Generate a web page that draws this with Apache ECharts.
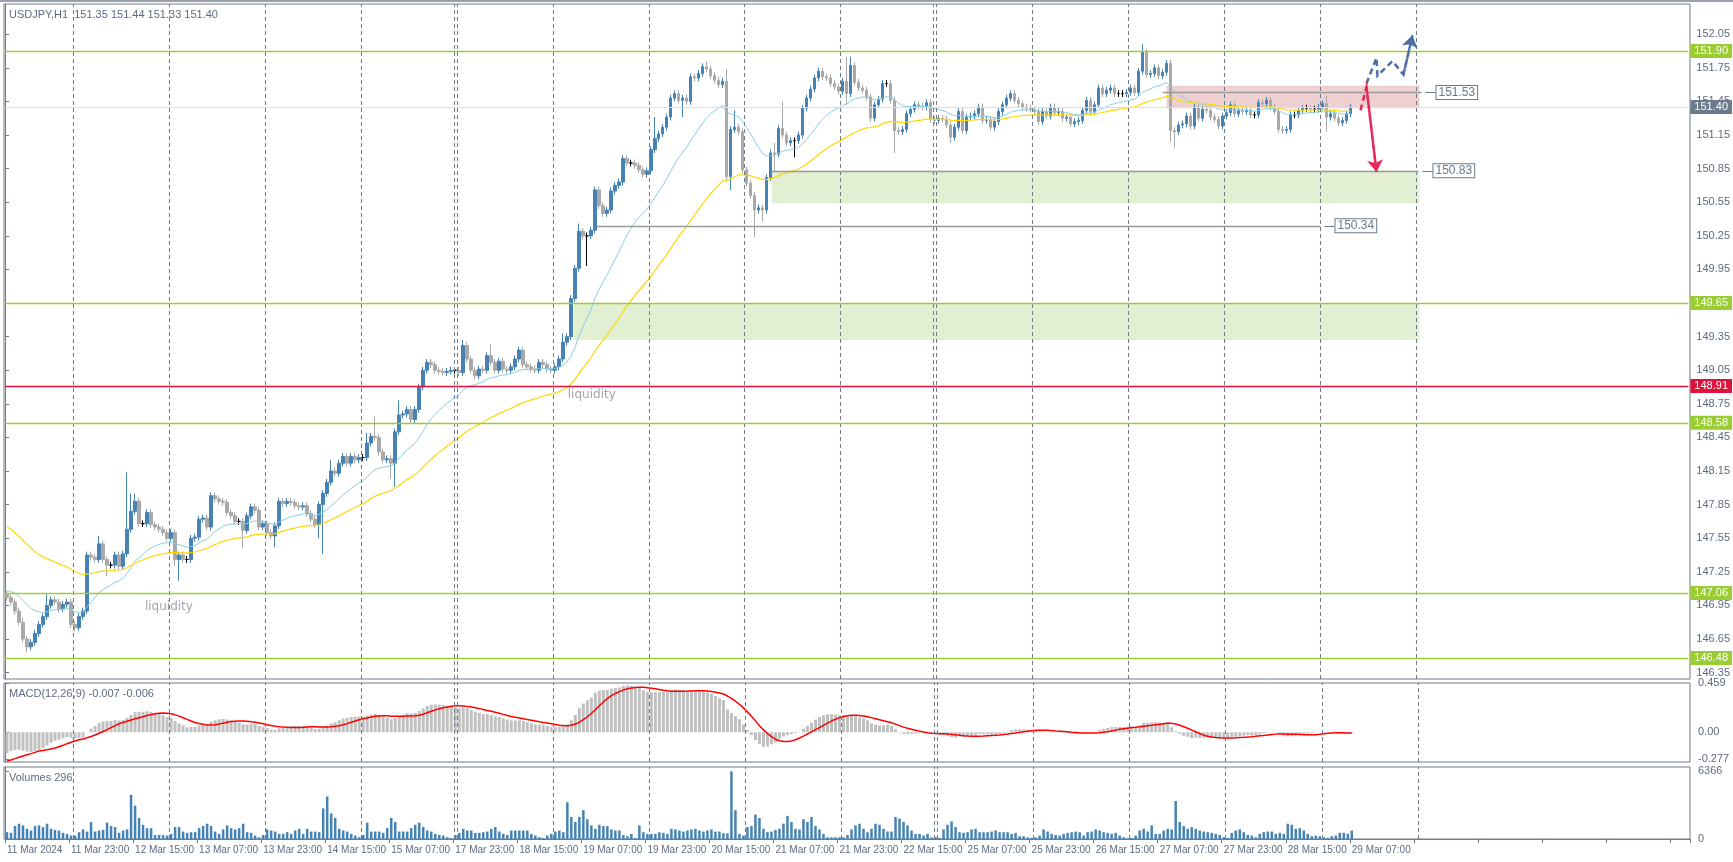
<!DOCTYPE html>
<html><head><meta charset="utf-8">
<script src="https://cdn.jsdelivr.net/npm/echarts@6/dist/echarts.min.js"></script>
<style>html,body{margin:0;padding:0;background:#fff}#c{width:1733px;height:862px}</style>
</head><body><div id="c"></div>
<script>
const firstOpen = 147.05;
const closes = [
147.02,146.98,146.90,146.80,146.65,146.58,146.62,146.70,146.78,146.85,146.95,147.00,146.98,146.92,146.96,146.98,146.78,146.75,146.85,146.90,
147.40,147.38,147.36,147.50,147.36,147.31,147.31,147.40,147.30,147.41,
147.63,147.79,147.88,147.68,147.68,147.78,147.67,147.65,147.63,147.60,
147.55,147.60,147.36,147.40,147.36,147.36,147.55,147.56,147.72,147.73,
147.65,147.93,147.90,147.88,147.87,147.78,147.75,147.70,147.70,147.62,
147.75,147.83,147.80,147.65,147.68,147.60,147.57,147.66,147.88,147.86,
147.88,147.87,147.84,147.83,147.84,147.77,147.72,147.67,147.85,147.95,
148.05,148.15,148.13,148.22,148.28,148.22,148.28,148.25,148.27,148.27,
148.40,148.46,148.45,148.32,148.25,148.26,148.22,148.50,148.65,148.66,
148.70,148.61,148.70,148.90,149.05,149.12,149.10,149.05,149.04,149.03,
149.04,149.05,149.05,149.03,149.27,149.15,149.05,149.00,149.06,149.05,
149.18,149.12,149.05,149.13,149.06,149.05,149.08,149.15,149.23,149.10,
149.08,149.06,149.05,149.12,149.10,149.06,149.05,149.08,149.15,149.30,
149.35,149.69,149.96,150.29,150.25,150.25,150.30,150.66,150.52,150.45,
150.48,150.65,150.70,150.73,150.94,150.90,150.90,150.88,150.84,150.80,
150.83,151.02,151.12,151.16,151.22,151.31,151.48,151.52,151.46,151.48,
151.45,151.67,151.66,151.70,151.76,151.74,151.68,151.64,151.60,151.63,
150.78,151.20,151.22,151.18,150.84,150.72,150.61,150.48,150.50,150.48,
150.77,150.99,150.98,151.21,151.15,151.08,151.10,151.10,151.15,151.39,
151.48,151.56,151.66,
151.72,151.67,151.66,151.61,151.58,151.54,151.63,151.52,151.77,151.62,
151.57,151.55,151.49,151.30,151.42,151.47,151.61,151.61,151.46,151.19,
151.18,151.20,151.34,151.38,151.42,151.41,151.40,151.44,151.29,151.28,
151.30,151.29,151.24,151.13,151.22,151.36,151.19,151.31,151.32,151.34,
151.40,151.28,151.29,151.22,151.27,151.36,151.42,151.48,151.52,151.46,
151.43,151.40,151.39,151.38,151.36,151.27,151.36,151.32,151.40,151.35,
151.36,151.30,151.31,151.25,151.27,151.28,151.37,151.46,151.36,151.42,
151.57,151.52,151.55,151.57,151.52,151.52,151.52,151.53,151.57,151.53,
151.72,151.89,151.69,151.70,151.75,151.68,151.71,151.79,151.19,151.18,
151.24,151.25,151.32,151.23,151.40,151.30,151.38,151.37,151.31,151.29,
151.23,151.32,151.35,151.42,151.34,151.37,151.36,151.37,151.33,151.33,
151.44,151.43,151.46,151.40,151.36,151.20,151.19,151.20,151.33,151.33,
151.37,151.39,151.39,151.38,151.38,151.40,151.43,151.31,151.34,151.30,151.26,151.28,151.34,151.40
];
// wick lengths in pips (0.01) beyond the body; unlisted bars use the typical 3-pip wick
const typicalWick = 3;
const upWicks = {4:4,10:10,23:7,30:51,31:16,32:7,81:10,90:9,92:18,98:13,114:5,121:10,139:8,143:7,162:19,175:5,180:11,182:15,192:9,194:24,210:22,211:8,284:7,330:7};
const downWicks = {5:5,25:10,42:6,43:19,59:16,67:10,78:12,79:44,96:14,97:21,145:27,169:15,181:12,187:24,189:10,192:15,197:15,210:10,222:20,236:5,291:10,292:15,330:13};
const volumes = [
640,580,1220,1440,1280,960,800,1220,1280,1120,1440,960,860,800,580,480,320,320,640,900,
700,1600,700,800,860,1540,1220,1120,580,800,900,4160,3140,1980,1340,1020,1020,380,380,380,
320,480,1120,1120,700,580,640,640,1020,1220,1440,1220,700,480,900,1280,1020,900,1020,1440,
640,580,320,160,380,900,800,700,480,480,640,480,800,960,480,960,700,700,640,2880,
4000,2400,1980,960,800,700,480,320,160,380,1540,700,700,700,580,1020,1980,1600,700,700,
700,1020,1340,1540,1120,800,700,480,380,320,160,60,380,580,960,800,800,580,580,640,
700,960,1120,700,480,380,800,800,800,800,800,480,320,160,100,320,480,700,800,640,
3460,2080,1600,2080,2720,1860,1280,960,1340,1220,1220,900,800,800,380,260,480,100,1280,640,
480,480,480,640,580,480,960,900,800,700,800,900,960,800,
700,800,900,700,700,540,540,6366,2720,480,
320,1120,1220,2300,1980,960,640,700,860,960,
1440,2180,1600,960,900,1860,1600,2080,1220,900,
480,160,160,160,160,160,380,900,1280,1440,
960,640,960,1440,1340,960,700,700,2080,1920,
1600,1280,800,480,480,320,480,160,160,100,
900,1340,1660,1120,640,580,640,900,960,640,
640,640,700,800,640,640,640,480,580,260,
260,160,100,160,320,900,700,480,380,320,
480,580,640,700,640,320,640,700,900,800,
640,580,480,580,320,160,60,100,320,800,
960,700,1280,480,480,800,960,900,3580,1600,
1220,960,1120,960,800,700,640,580,480,380,
160,100,580,800,900,640,380,320,160,480,
640,700,700,480,580,480,1440,1340,960,1020,
800,480,260,320,260,160,100,260,320,580,
580,480,800
];
const tickLabels = ["11 Mar 2024","11 Mar 23:00","12 Mar 15:00","13 Mar 07:00","13 Mar 23:00","14 Mar 15:00","15 Mar 07:00","17 Mar 23:00","18 Mar 15:00","19 Mar 07:00","19 Mar 23:00","20 Mar 15:00","21 Mar 07:00","21 Mar 23:00","22 Mar 15:00","25 Mar 07:00","25 Mar 23:00","26 Mar 15:00","27 Mar 07:00","27 Mar 23:00","28 Mar 15:00","29 Mar 07:00"];
const priceTicks = [152.05,151.75,151.45,151.15,150.85,150.55,150.25,149.95,149.65,149.35,149.05,148.75,148.45,148.15,147.85,147.55,147.25,146.95,146.65,146.35];
const greenLevels = [151.90,149.65,148.58,147.06,146.48];
const redLevel = 148.91;
const lastPrice = 151.40;
const gridSlots = [17,41,65,89,112.25,113,137,161,185,209,232.25,233,257,281,305,329,353];
// annotations: [slot, price]
const levelLines = [{v:151.53,from:289.5,to:354.25},{v:150.83,from:191.75,to:353.5},{v:150.34,from:148,to:329}];
const zones = [
 {from:290.5,to:353.75,hi:151.59,lo:151.39,color:'rgba(225,170,170,0.55)'},
 {from:191.75,to:353.75,hi:150.83,lo:150.54,color:'rgba(200,225,175,0.55)'},
 {from:142.25,to:353.75,hi:149.65,lo:149.32,color:'rgba(200,225,175,0.55)'}];
const bluePath = [[340.5,151.61],[343,151.84],[343.25,151.68],[347,151.81],[349.75,151.69],[352,152.04]];
const redPath = [[339,151.37],[340.5,151.58],[343,150.82]];
const liquidityNotes = [[35,146.94],[140.75,148.83]];

const SLOTS = 421;
const cats = Array.from({length:SLOTS},(_,i)=>String(i));
const opens = closes.map((c,i)=> i===0? firstOpen : closes[i-1]);
const candles = closes.map((c,i)=>{
  const o=opens[i], hiB=Math.max(o,c), loB=Math.min(o,c);
  const u=(upWicks[i]??typicalWick)/100, d=(downWicks[i]??typicalWick)/100;
  return [o,c,+(loB-d).toFixed(2),+(hiB+u).toFixed(2)];
});
function ema(arr,p,seed){let e=seed;return arr.map(v=>{e=e+(v-e)*2/(p+1);return +e.toFixed(4);});}
const ma20 = ema(closes,20,147.09);
const ma50 = ema(closes,50,147.68);
const e12 = ema(closes,12,146.90), e26 = ema(closes,26,147.12);
const macd = e12.map((v,i)=>+(v-e26[i]).toFixed(4));
const signal = macd.map((v,i)=>{let s=0;for(let k=i-8;k<=i;k++){s+= k<0? -0.28 : macd[k];}return +(s/9).toFixed(4);});

const txt='#5d6b82', frame='#6f7a8a', font='"Liberation Sans", Arial, sans-serif';
const ch = echarts.init(document.getElementById('c'));
const grids=[{left:5,top:4,width:1685,height:675},{left:5,top:683,width:1685,height:79},{left:5,top:767,width:1685,height:72}];
const catAxis=(g,show)=>({type:'category',gridIndex:g,data:cats,boundaryGap:true,
  axisLine:{show:show,lineStyle:{color:frame}},
  axisTick:{show:show,interval:(i)=>i%16===0,length:4,lineStyle:{color:frame}},
  axisLabel:{show:show,interval:(i)=>i%16===0,showMinLabel:true,hideOverlap:false,align:'left',margin:6,color:txt,fontSize:10,fontFamily:font,formatter:(v,i)=>tickLabels[i/16]||''},
  splitLine:{show:false}});
const valX=(g)=>({type:'value',gridIndex:g,min:0,max:SLOTS,show:false,splitLine:{show:false}});
const yStyle={position:'right',axisLine:{show:true,lineStyle:{color:frame}},axisTick:{show:true,length:4,lineStyle:{color:frame}},splitLine:{show:false},axisLabel:{color:txt,fontSize:11,fontFamily:font,margin:8}};
const vLines=(g)=>({type:'line',xAxisIndex:3+g,yAxisIndex:g,data:[],silent:true,
  markLine:{symbol:'none',silent:true,label:{show:false},lineStyle:{color:frame,type:[4,3],width:1},data:gridSlots.map(s=>({xAxis:s}))}});
const tag=(v,bg)=>({yAxis:v,lineStyle:{color:bg==='#dc143c'?'#dc143c':'#9acd32',width:1.3,type:'solid'},
  label:{show:true,position:'end',distance:2,formatter:v.toFixed(2),color:'#fff',backgroundColor:bg,padding:[2,4,1,4],fontSize:11,fontFamily:font}});
const arrowSeg=(path,color)=>({coords:path.slice(-2),lineStyle:{color:color}});

const option={animation:false,backgroundColor:'#fff',grid:grids,
 xAxis:[catAxis(0,false),catAxis(1,false),catAxis(2,true),valX(0),valX(1),valX(2)],
 yAxis:[
  Object.assign({},yStyle,{gridIndex:0,min:146.293,max:152.32,axisLabel:Object.assign({},yStyle.axisLabel,{customValues:priceTicks,formatter:v=>v.toFixed(2)}),axisTick:Object.assign({},yStyle.axisTick,{customValues:priceTicks})}),
  Object.assign({},yStyle,{gridIndex:1,min:-0.277,max:0.459,axisLabel:Object.assign({},yStyle.axisLabel,{customValues:[0.459,0,-0.25],formatter:v=>v===0?'0.00':(v<0?'-0.277':String(v))}),axisTick:Object.assign({},yStyle.axisTick,{customValues:[0.459,0,-0.25]})}),
  Object.assign({},yStyle,{gridIndex:2,min:0,max:6780,axisLabel:Object.assign({},yStyle.axisLabel,{customValues:[6366,0],formatter:v=>String(v)}),axisTick:Object.assign({},yStyle.axisTick,{customValues:[6366,0]})})
 ],
 series:[
  vLines(0),vLines(1),vLines(2),
  {type:'line',xAxisIndex:3,yAxisIndex:0,data:[],silent:true,z:1,
   markArea:{silent:true,data:zones.map(z=>[{xAxis:z.from,yAxis:z.hi,itemStyle:{color:z.color}},{xAxis:z.to,yAxis:z.lo}])},
   markLine:{symbol:'none',silent:true,data:[
     ...levelLines.map(l=>[{coord:[l.from,l.v],lineStyle:{color:'#9a9a9a',width:1.3,type:'solid'},label:{show:false}},{coord:[l.to,l.v]}]),
     ...levelLines.map(l=>[{coord:[l.to+1,l.v],lineStyle:{color:'#6b7b8c',width:1,type:'solid'},
        label:{show:true,position:'end',distance:1,formatter:l.v.toFixed(2),color:'#6b7b8c',backgroundColor:'#fff',borderColor:'#6b7b8c',borderWidth:1,padding:[1,2,0,2],fontSize:12,fontFamily:font}},{coord:[l.to+3.5,l.v]}])
   ]}},
  {type:'candlestick',xAxisIndex:0,yAxisIndex:0,data:candles,barWidth:3,z:3,
   itemStyle:{color:'#4682b4',color0:'#a9a9a9',borderColor:'#4682b4',borderColor0:'#a9a9a9',borderColorDoji:'#000',borderWidth:1},
   markLine:{symbol:'none',silent:true,data:[
     {yAxis:lastPrice,lineStyle:{color:'#dcdcec',width:1,type:'solid'},label:{show:true,position:'end',distance:2,formatter:lastPrice.toFixed(2),color:'#fff',backgroundColor:'#6b7b8c',padding:[2,4,1,4],fontSize:11,fontFamily:font}},
     ...greenLevels.map(v=>tag(v,'#9acd32')), tag(redLevel,'#dc143c')]}},
  {type:'line',xAxisIndex:0,yAxisIndex:0,data:ma20,showSymbol:false,lineStyle:{color:'#87ceeb',width:1},z:4},
  {type:'line',xAxisIndex:0,yAxisIndex:0,data:ma50,showSymbol:false,lineStyle:{color:'#ffd700',width:1.2},z:4},
  {type:'lines',coordinateSystem:'cartesian2d',xAxisIndex:3,yAxisIndex:0,polyline:true,z:6,silent:true,
   data:[{coords:bluePath,lineStyle:{color:'#4a6fa5'}},{coords:redPath,lineStyle:{color:'#e8285a'}}],
   lineStyle:{width:2.5,type:[6,4],opacity:1}},
  {type:'lines',coordinateSystem:'cartesian2d',xAxisIndex:3,yAxisIndex:0,z:6,silent:true,
   data:[arrowSeg(bluePath,'#4a6fa5'),arrowSeg(redPath,'#e8285a')],
   lineStyle:{width:2.5,type:[6,4],opacity:1},symbol:['none','arrow'],symbolSize:12},
  {type:'scatter',xAxisIndex:3,yAxisIndex:0,data:liquidityNotes,symbolSize:0,silent:true,
   label:{show:true,position:'right',distance:0,formatter:'liquidity',color:'#8a8f98',fontSize:12,fontFamily:'"DejaVu Sans", sans-serif'}},
  {type:'bar',xAxisIndex:1,yAxisIndex:1,data:macd,barWidth:3,itemStyle:{color:'#c0c0c0'}},
  {type:'line',xAxisIndex:1,yAxisIndex:1,data:signal,showSymbol:false,lineStyle:{color:'#ff0000',width:1.5},z:4},
  {type:'bar',xAxisIndex:2,yAxisIndex:2,data:volumes,barWidth:2.5,itemStyle:{color:'#4682b4'}}
 ],
 graphic:[
  {type:'rect',left:0,top:0,shape:{width:1733,height:2},style:{fill:'#9aa0aa'}},
  {type:'rect',shape:{x:4,y:4,width:1686,height:675},style:{fill:'none',stroke:frame,lineWidth:1},silent:true},
  {type:'rect',shape:{x:4,y:683,width:1686,height:79},style:{fill:'none',stroke:frame,lineWidth:1},silent:true},
  {type:'rect',shape:{x:4,y:767,width:1686,height:72},style:{fill:'none',stroke:frame,lineWidth:1},silent:true},
  {type:'text',left:9,top:9,style:{text:'USDJPY,H1  151.35 151.44 151.33 151.40',fill:txt,fontSize:11,fontFamily:font}},
  {type:'text',left:9,top:688,style:{text:'MACD(12,26,9) -0.007 -0.006',fill:txt,fontSize:11,fontFamily:font}},
  {type:'text',left:9,top:772,style:{text:'Volumes 296',fill:txt,fontSize:11,fontFamily:font}}
 ]};
ch.setOption(option);
</script></body></html>
